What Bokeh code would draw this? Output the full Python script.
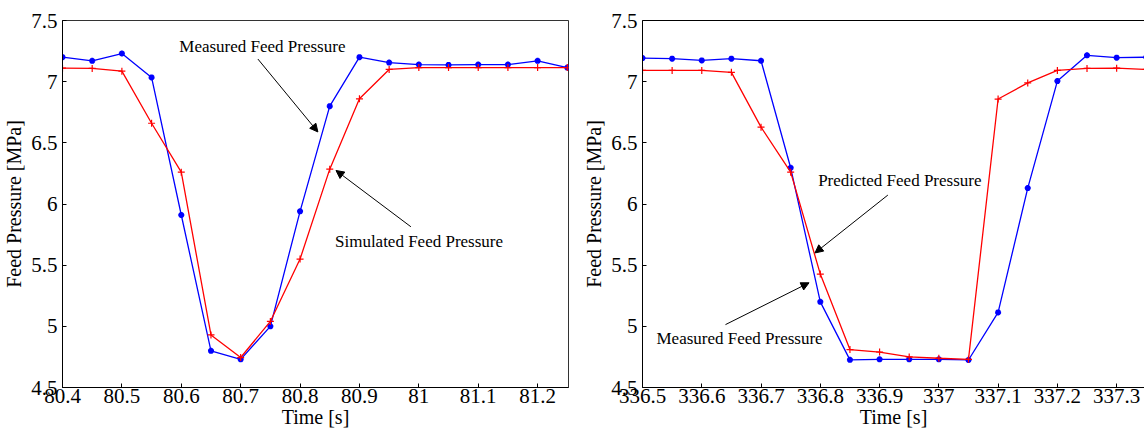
from bokeh.plotting import figure
from bokeh.layouts import row
from bokeh.models import (Range1d, SingleIntervalTicker, CustomJSTickFormatter, Arrow,
                          NormalHead, Label, LinearAxis)
from bokeh.embed import file_html
from bokeh.resources import INLINE

# ---------------- data ----------------
time_left = [80.40, 80.45, 80.50, 80.55, 80.60, 80.65, 80.70, 80.75, 80.80,
             80.85, 80.90, 80.95, 81.00, 81.05, 81.10, 81.15, 81.20, 81.25]
measured_left = [7.20, 7.17, 7.23, 7.035, 5.91, 4.80, 4.73, 5.00, 5.94,
                 6.80, 7.20, 7.156, 7.14, 7.137, 7.14, 7.14, 7.17, 7.115]
simulated_left = [7.11, 7.108, 7.086, 6.66, 6.26, 4.93, 4.745, 5.04, 5.55,
                  6.285, 6.86, 7.10, 7.115, 7.115, 7.115, 7.115, 7.115, 7.115]

time_right = [336.50, 336.55, 336.60, 336.65, 336.70, 336.75, 336.80, 336.85, 336.90,
              336.95, 337.00, 337.05, 337.10, 337.15, 337.20, 337.25, 337.30, 337.35]
measured_right = [7.193, 7.188, 7.174, 7.188, 7.171, 6.296, 5.20, 4.726, 4.73,
                  4.73, 4.73, 4.725, 5.114, 6.13, 7.005, 7.215, 7.196, 7.20]
predicted_right = [7.092, 7.092, 7.092, 7.076, 6.628, 6.26, 5.427, 4.81, 4.79,
                   4.75, 4.739, 4.73, 6.858, 6.99, 7.092, 7.108, 7.11, 7.10]

x_label = "Time [s]"
y_label = "Feed Pressure [MPa]"

FONT = "Liberation Serif"
BLUE = "#0000ff"
RED = "#ff0000"

fmt_code = "var s = tick.toFixed(1); if (s.endsWith('.0')) { s = s.slice(0, -2); } return s;"


def style(p, show_right_border=True):
    p.background_fill_color = "white"
    p.border_fill_color = "white"
    p.xgrid.visible = False
    p.ygrid.visible = False
    p.xaxis.ticker = SingleIntervalTicker(interval=0.1, num_minor_ticks=0)
    p.yaxis.ticker = SingleIntervalTicker(interval=0.5, num_minor_ticks=0)
    for ax in (p.xaxis, p.yaxis):
        ax.formatter = CustomJSTickFormatter(code=fmt_code)
        ax.major_tick_in = 4
        ax.major_tick_out = 0
        ax.minor_tick_line_color = None
        ax.axis_line_color = "black"
        ax.axis_line_width = 1
        ax.major_tick_line_color = "black"
        ax.major_label_text_font = FONT
        ax.major_label_text_font_size = "21px"
        ax.major_label_text_color = "black"
        ax.axis_label_text_font = FONT
        ax.axis_label_text_font_size = "20px"
        ax.axis_label_text_font_style = "normal"
        ax.axis_label_text_color = "black"
    p.xaxis.major_label_standoff = 1
    p.yaxis.major_label_standoff = 5
    p.xaxis.axis_label_standoff = 0
    p.yaxis.axis_label_standoff = 3
    if show_right_border:
        p.outline_line_color = "black"
        p.outline_line_width = 1
        p.outline_line_alpha = 0.8
    else:
        p.outline_line_color = None
        top = LinearAxis(major_tick_in=0, major_tick_out=0, minor_tick_line_color=None,
                         major_label_text_font_size="0px", axis_line_color="black")
        top.ticker = SingleIntervalTicker(interval=0.1, num_minor_ticks=0)
        top.major_label_text_color = None
        p.add_layout(top, "above")


def add_note(p, text, x, y):
    p.add_layout(Label(x=x, y=y, text=text, text_font=FONT, text_font_size="17px",
                       text_color="black", text_baseline="middle", text_align="left"))


def add_arrow(p, x0, y0, x1, y1):
    p.add_layout(Arrow(end=NormalHead(size=8, fill_color="black", line_color="black", line_width=1),
                       x_start=x0, y_start=y0, x_end=x1, y_end=y1,
                       line_color="black", line_width=1))


# ---------------- left chart ----------------
p1 = figure(width=580, height=439, output_backend="svg", toolbar_location=None,
            x_range=Range1d(80.4, 81.252), y_range=Range1d(4.5, 7.5),
            min_border_left=61, min_border_right=12, min_border_top=15, min_border_bottom=52,
            x_axis_label=x_label, y_axis_label=y_label)
style(p1, True)
p1.line(time_left, measured_left, line_color=BLUE, line_width=1.3)
p1.scatter(time_left, measured_left, marker="asterisk", size=6, line_color=BLUE, line_width=2)
p1.line(time_left, simulated_left, line_color=RED, line_width=1.3)
p1.scatter(time_left, simulated_left, marker="cross", size=7, line_color=RED, line_width=1.2)
add_note(p1, "Measured Feed Pressure", 80.5966, 7.29)
add_arrow(p1, 80.729, 7.185, 80.83, 6.589)
add_note(p1, "Simulated Feed Pressure", 80.8588, 5.694)
add_arrow(p1, 80.9866, 5.814, 80.8605, 6.274)

# ---------------- right chart ----------------
p2 = figure(width=564, height=439, output_backend="svg", toolbar_location=None,
            x_range=Range1d(336.5, 337.347), y_range=Range1d(4.5, 7.5),
            min_border_left=61, min_border_right=0, min_border_top=20, min_border_bottom=51,
            x_axis_label=x_label, y_axis_label=y_label)
style(p2, False)
p2.line(time_right, measured_right, line_color=BLUE, line_width=1.3)
p2.scatter(time_right, measured_right, marker="asterisk", size=6, line_color=BLUE, line_width=2)
p2.line(time_right, predicted_right, line_color=RED, line_width=1.3)
p2.scatter(time_right, predicted_right, marker="cross", size=7, line_color=RED, line_width=1.2)
add_note(p2, "Predicted Feed Pressure", 336.7964, 6.196)
add_arrow(p2, 336.914, 6.073, 336.791, 5.60)
add_note(p2, "Measured Feed Pressure", 336.5236, 4.899)
add_arrow(p2, 336.64, 5.014, 336.781, 5.356)

layout = row(p1, p2, spacing=0)
open("out.html", "w").write(file_html(layout, INLINE))
